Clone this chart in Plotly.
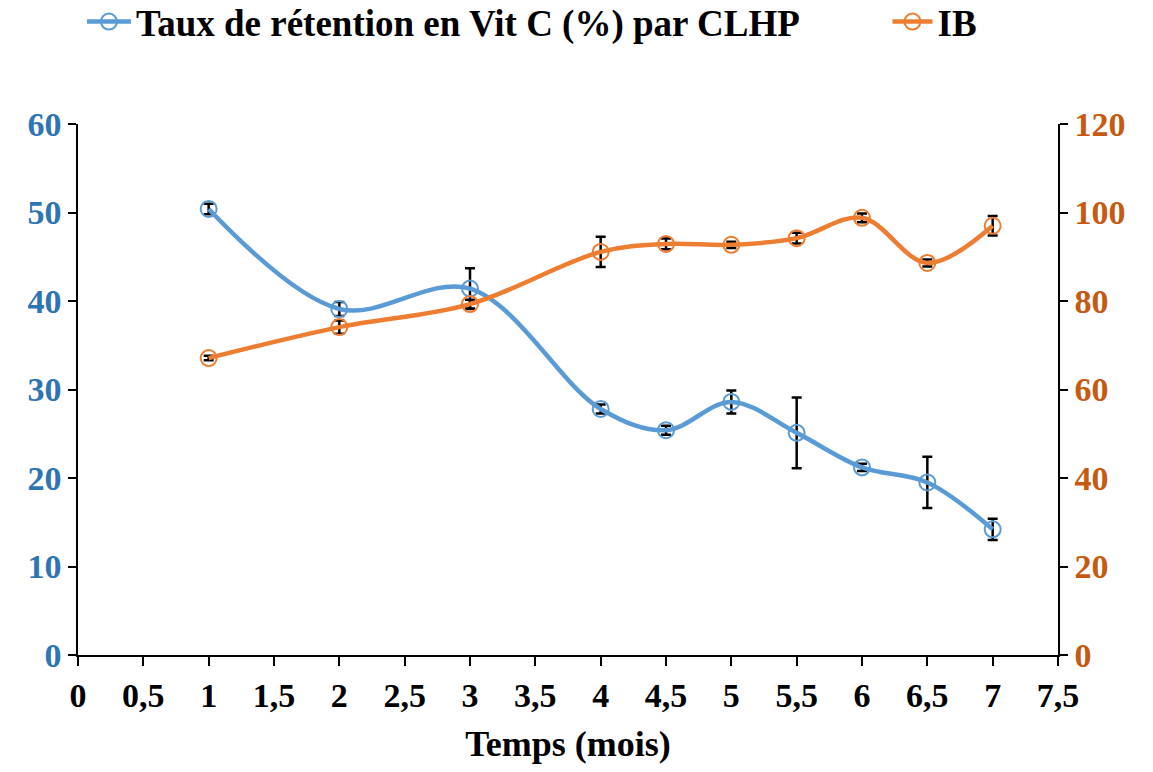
import plotly.graph_objects as go

# Storage time (months)
mois = [1, 2, 3, 4, 4.5, 5, 5.5, 6, 6.5, 7]

# Vitamin C retention rate (%) measured by HPLC (CLHP) and its standard deviation
vitc = [50.4, 39.1, 41.4, 27.8, 25.4, 28.6, 25.1, 21.2, 19.5, 14.2]
vitc_err = [0.6, 0.8, 2.3, 0.5, 0.5, 1.3, 4.0, 0.4, 2.9, 1.2]

# Browning index (IB) and its standard deviation
ib = [67.1, 74.1, 79.3, 91.1, 92.9, 92.7, 94.2, 98.8, 88.6, 97.0]
ib_err = [0.5, 1.5, 1.0, 3.4, 1.2, 0.7, 1.2, 1.0, 0.8, 2.2]

# Axis ticks (French decimal comma)
x_ticks = [0, 0.5, 1, 1.5, 2, 2.5, 3, 3.5, 4, 4.5, 5, 5.5, 6, 6.5, 7, 7.5]
x_ticktext = ["0", "0,5", "1", "1,5", "2", "2,5", "3", "3,5", "4", "4,5",
              "5", "5,5", "6", "6,5", "7", "7,5"]

BLUE = "#5B9BD5"
ORANGE = "#ED7D31"
FONT = "Liberation Serif"

fig = go.Figure()

fig.add_trace(go.Scatter(
    x=mois, y=vitc, name="Taux de rétention en Vit C (%) par CLHP",
    mode="lines+markers",
    line=dict(color=BLUE, width=4.5, shape="spline", smoothing=1),
    marker=dict(symbol="circle-open", size=16, color=BLUE, line=dict(width=2, color=BLUE)),
    error_y=dict(type="data", array=vitc_err, color="black", thickness=2.5, width=5),
    yaxis="y", legend="legend",
))

fig.add_trace(go.Scatter(
    x=mois, y=ib, name="IB",
    mode="lines+markers",
    line=dict(color=ORANGE, width=4.5, shape="spline", smoothing=1),
    marker=dict(symbol="circle-open", size=16, color=ORANGE, line=dict(width=2, color=ORANGE)),
    error_y=dict(type="data", array=ib_err, color="black", thickness=2.5, width=5),
    yaxis="y2", legend="legend2",
))

legend_font = dict(family=FONT, size=37, color="black", weight="bold")

fig.update_layout(
    width=1153, height=772,
    margin=dict(l=78, r=95, t=124, b=117, autoexpand=False),
    plot_bgcolor="white", paper_bgcolor="white",
    font=dict(family=FONT, size=34, color="black", weight="bold"),
    showlegend=True,
    legend=dict(
        orientation="h", x=0.004, xanchor="left", y=1.192, yanchor="middle",
        font=legend_font, itemwidth=44, bgcolor="rgba(0,0,0,0)",
    ),
    legend2=dict(
        orientation="h", x=0.826, xanchor="left", y=1.192, yanchor="middle",
        font=legend_font, itemwidth=40, bgcolor="rgba(0,0,0,0)",
    ),
    xaxis=dict(
        range=[0, 7.5], tickvals=x_ticks, ticktext=x_ticktext,
        showgrid=False, zeroline=False,
        showline=True, linecolor="black", linewidth=2,
        ticks="outside", ticklen=9, tickwidth=1.5, tickcolor="black",
        title=dict(text="Temps (mois)", font=dict(family=FONT, size=36, weight="bold"), standoff=18),
        tickfont=dict(family=FONT, size=34, weight="bold"),
    ),
    yaxis=dict(
        range=[0, 60], dtick=10,
        showgrid=False, zeroline=False,
        showline=True, linecolor="black", linewidth=1.5,
        ticks="outside", ticklen=8, tickwidth=1.5, tickcolor="black",
        tickfont=dict(family=FONT, size=34, color="#2E75B6", weight="bold"),
    ),
    yaxis2=dict(
        range=[0, 120], dtick=20, overlaying="y", side="right",
        showgrid=False, zeroline=False,
        showline=True, linecolor="black", linewidth=1.5,
        ticks="outside", ticklen=8, tickwidth=1.5, tickcolor="black",
        tickfont=dict(family=FONT, size=34, color="#C55A11", weight="bold"),
    ),
)

fig.write_html("out.html")
